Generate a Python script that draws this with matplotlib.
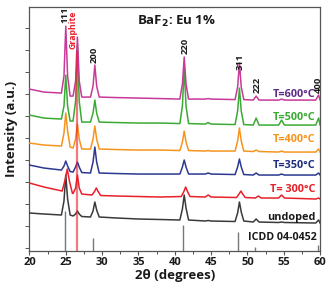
import matplotlib
matplotlib.use("Agg")
import matplotlib.pyplot as plt
from matplotlib.ticker import MultipleLocator

plt.rcParams['font.family'] = ['Open Sans', 'DejaVu Sans']

# ---- data (2theta in degrees, intensity in stacked a.u.) ----
two_theta = [20, 22, 24.4, 24.75, 25.0, 25.25, 25.6, 26.0, 26.35, 26.6, 26.85, 27.2,
             28.4, 28.75, 29.0, 29.25, 29.6, 32, 35, 38, 40.7, 41.05, 41.3, 41.55,
             41.9, 44.2, 44.6, 45.0, 48.3, 48.65, 48.9, 49.15, 49.5, 50.8, 51.2,
             51.6, 54.3, 54.7, 55.1, 59.4, 59.8, 60]
two_theta_300 = [20, 22, 24.5, 24.9, 25.2, 25.5, 25.9, 26.0, 26.35, 26.6, 26.85, 27.2,
                 28.6, 28.95, 29.2, 29.45, 29.8, 32, 35, 38, 40.9, 41.25, 41.5, 41.75,
                 42.1, 44.2, 44.6, 45.0, 48.5, 48.85, 49.1, 49.35, 49.7, 51.1, 51.5,
                 51.9, 54.3, 54.7, 55.1, 59.4, 59.8, 60]

undoped = [38, 37, 36, 50, 76, 52, 36, 35, 37, 40, 37, 34.5,
           34, 40, 49, 41, 34, 33, 32, 31.5, 31, 42, 56, 43,
           31, 30, 30.5, 30, 29.5, 38, 49, 39, 30, 29, 32,
           29, 28.5, 29, 28.5, 28, 31, 28]
t300 = [68, 64, 60, 71, 82, 70, 58, 57.5, 63, 76, 63, 57,
        56, 59.5, 63, 59.5, 55.5, 55, 54.5, 54, 54.5, 59.5, 64, 59.5,
        54.5, 54, 56, 54, 53.5, 57, 60, 57, 53.5, 53, 55,
        53, 53, 56, 53, 52, 53, 52]
t350 = [86, 83, 81, 85, 90, 85, 79.5, 79, 84, 89, 84, 78.5,
        78, 89, 104, 89, 78, 77.5, 77, 77, 77, 84, 91, 84,
        77, 77, 78, 77, 76.5, 84, 92, 84, 76.5, 76, 78,
        76, 76, 77, 76, 76, 78, 76]
t400 = [108, 106, 105, 118, 138, 120, 104, 103, 112, 127, 112, 102,
        102, 112, 125, 112, 102, 101.5, 101, 101, 100.5, 109, 120, 109,
        100.5, 100, 100.5, 100, 100, 110, 123, 110, 100, 99.5, 101,
        99.5, 99, 100, 99, 99, 102, 99]
t500 = [136, 133, 132, 145, 176, 145, 130, 130, 150, 206, 150, 129,
        129, 138, 151, 138, 129, 128.5, 128, 128, 127.5, 145, 183, 145,
        127.5, 127, 128.5, 127, 126.5, 140, 163, 140, 126.5, 126, 133,
        126, 126, 131, 126, 126, 133, 126]
t600 = [162, 159, 158, 175, 225, 175, 155, 155, 170, 214, 170, 154,
        154, 165, 186, 165, 154, 153.5, 153, 152.5, 152, 167, 194, 167,
        152, 152, 152.5, 152, 151.5, 164, 188, 164, 151.5, 151, 155,
        151, 151, 152, 151, 151, 156, 151]

icdd_pos = [24.9, 28.75, 41.1, 48.7, 51.0, 59.7]
icdd_int = [40, 13, 26, 19, 4, 6]
graphite_pos = 26.6
graphite_top = 200

series_labels = ["undoped", "T= 300°C", "T=350°C", "T=400°C", "T=500°C", "T=600°C"]
series_colors = ["#3a3a3a", "#e8202a", "#2b3990", "#f7941d", "#3aaa35", "#c8399a"]
label_colors = ["#1a1a1a", "#e8202a", "#1f2d80", "#f7941d", "#3aaa35", "#5e2d86"]
label_y = [34, 62, 86, 112, 134, 157]

peak_labels = ["111", "200", "220", "311", "222", "400"]
peak_label_x = [24.85, 28.95, 41.4, 48.95, 51.4, 59.7]
peak_label_y = [236, 196, 205, 189, 166, 166]

# ---- figure ----
fig = plt.figure(figsize=(3.31, 2.91), dpi=100)
ax = fig.add_axes([0.089, 0.1375, 0.878, 0.838])

xs = [two_theta, two_theta_300, two_theta, two_theta, two_theta, two_theta]
ys = [undoped, t300, t350, t400, t500, t600]
for x, y, c in zip(xs, ys, series_colors):
    ax.plot(x, y, color=c, lw=1.1, zorder=3)

ax.vlines(icdd_pos, 0, icdd_int, color="#777777", lw=1.0, zorder=2)
ax.vlines([graphite_pos], 0, graphite_top, color="#e8202a", lw=1.6, alpha=0.6, zorder=4)

for lab, c, y in zip(series_labels, label_colors, label_y):
    ax.text(59.4, y, lab, color=c, fontsize=7.8, fontweight="bold",
            ha="right", va="center", zorder=5)
ax.text(59.6, 13, "ICDD 04-0452", color="#1a1a1a", fontsize=7.7,
        fontweight="bold", ha="right", va="center", zorder=5)

for lab, x, y in zip(peak_labels, peak_label_x, peak_label_y):
    ax.text(x, y, lab, rotation=90, fontsize=6.8, fontweight="bold",
            ha="center", va="center", color="#1a1a1a", zorder=5)
ax.text(26.05, 221, "Graphite", rotation=90, fontsize=6.3, fontweight="bold",
        ha="center", va="center", color="#e8202a", zorder=5)

ax.text(40.3, 230, "BaF$_\\mathbf{2}$: Eu 1%", fontsize=9.5, fontweight="bold",
        ha="center", va="center", color="#1a1a1a")

ax.set_xlim(20, 60)
ax.set_ylim(0, 244)
ax.xaxis.set_major_locator(MultipleLocator(5))
ax.xaxis.set_minor_locator(MultipleLocator(2.5))
ax.set_yticks([3, 47, 91, 135, 179, 223])
ax.set_yticks([25, 69, 113, 157, 201], minor=True)
ax.tick_params(axis="y", which="both", labelleft=False, length=3, width=0.7, colors="#555555")
ax.tick_params(axis="x", which="major", length=3, width=0.8, labelsize=8, colors="#555555",
               labelcolor="#1a1a1a", pad=1.5)
ax.tick_params(axis="x", which="minor", length=2, width=0.7, colors="#555555")
for lab in ax.get_xticklabels():
    lab.set_fontweight("bold")
for s in ax.spines.values():
    s.set_color("#555555")
    s.set_linewidth(0.9)

ax.set_xlabel("2θ (degrees)", fontsize=9.5, fontweight="bold", labelpad=0.5, color="#1a1a1a")
ax.set_ylabel("Intensity (a.u.)", fontsize=9.5, fontweight="bold", labelpad=5, color="#1a1a1a")

fig.savefig("out.png", dpi=100)
